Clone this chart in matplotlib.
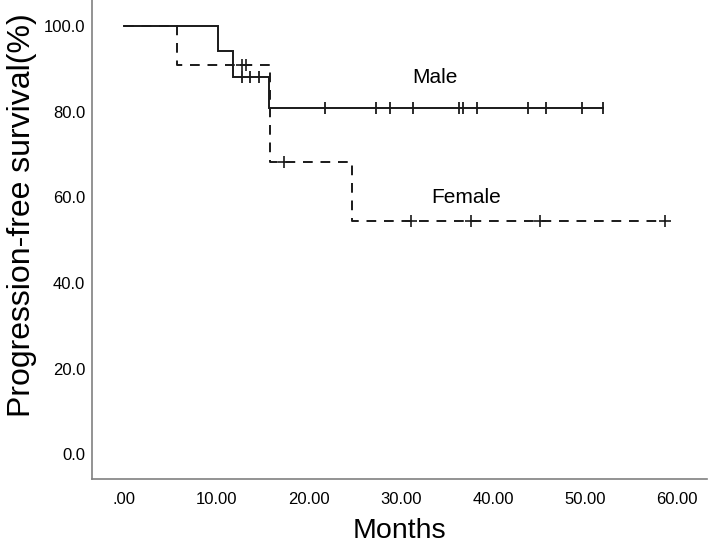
import matplotlib
matplotlib.use("Agg")
import matplotlib.pyplot as plt

plt.rcParams['font.family'] = ['Liberation Sans', 'DejaVu Sans']

# Kaplan-Meier step data
male_step_t = [0, 10.2, 11.8, 15.75]
male_step_s = [100.0, 94.1, 88.2, 80.9]
male_end_t = 51.9
male_cens_t = [12.75, 13.7, 14.6, 21.8, 27.3, 28.8, 31.3, 36.3, 36.8, 38.3, 43.8, 45.8, 49.7, 51.9]
male_cens_s = [88.2, 88.2, 88.2] + [80.9] * 11

female_step_t = [0, 5.75, 15.85, 24.75]
female_step_s = [100.0, 90.9, 68.2, 54.5]
female_end_t = 58.7
female_cens_t = [12.8, 13.2, 17.3, 31.1, 37.6, 45.1, 58.7]
female_cens_s = [90.9, 90.9, 68.2, 54.5, 54.5, 54.5, 54.5]

x_ticks = [0, 10, 20, 30, 40, 50, 60]
x_tick_labels = ['.00', '10.00', '20.00', '30.00', '40.00', '50.00', '60.00']
y_ticks = [0, 20, 40, 60, 80, 100]
y_tick_labels = ['0.0', '20.0', '40.0', '60.0', '80.0', '100.0']

fig = plt.figure(figsize=(7.09, 5.46), dpi=100)
ax = fig.add_axes([0.13, 0.1227, 0.867, 0.8773])

line_col = '#1a1a1a'

# Male (solid)
mt = male_step_t + [male_end_t]
ms = male_step_s + [male_step_s[-1]]
ax.step(mt, ms, where='post', color=line_col, lw=1.4, solid_joinstyle='miter')
ax.plot(male_cens_t, male_cens_s, ls='none', marker='|', ms=8, mew=1.3, color=line_col)

# Female (dashed)
ft = female_step_t + [female_end_t]
fs = female_step_s + [female_step_s[-1]]
ax.step(ft, fs, where='post', color=line_col, lw=1.4, linestyle=(0, (5, 4)))
ax.plot(female_cens_t, female_cens_s, ls='none', marker='+', ms=8, mew=1.2, color=line_col)

ax.text(33.7, 87.9, 'Male', fontsize=15, ha='center', va='center', color='black')
ax.text(37.1, 59.9, 'Female', fontsize=15, ha='center', va='center', color='black')

ax.set_xlim(-3.47, 63.2)
ax.set_ylim(-5.8, 106.1)
ax.set_xticks(x_ticks)
ax.set_xticklabels(x_tick_labels)
ax.set_yticks(y_ticks)
ax.set_yticklabels(y_tick_labels)
ax.tick_params(axis='both', length=0, labelsize=12, colors='black')
ax.tick_params(axis='y', pad=5)
ax.tick_params(axis='x', pad=9)

for s in ['top', 'right']:
    ax.spines[s].set_visible(False)
for s in ['left', 'bottom']:
    ax.spines[s].set_color('#808080')
    ax.spines[s].set_linewidth(1.2)

ax.set_xlabel('Months', fontsize=20.5, labelpad=8)
ax.set_ylabel('Progression-free survival(%)', fontsize=23, labelpad=5)
ax.yaxis.label.set_y(0.55)

fig.savefig('out.png', dpi=100)
